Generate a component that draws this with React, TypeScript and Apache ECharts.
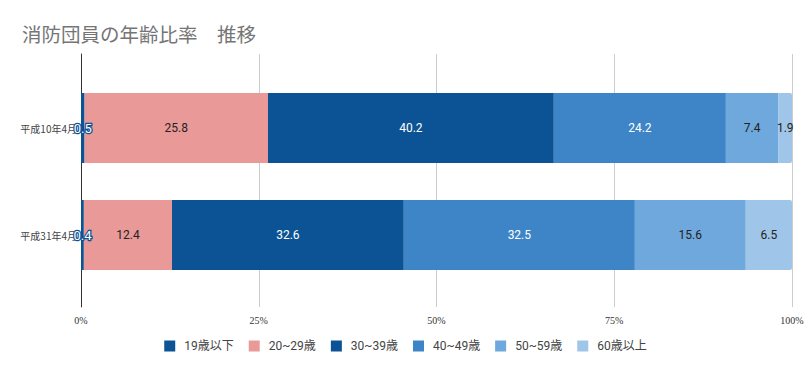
import React, { useEffect, useRef } from "react";
import * as echarts from "echarts";

const categories = ["平成10年4月", "平成31年4月"];
const seriesNames = ["19歳以下", "20~29歳", "30~39歳", "40~49歳", "50~59歳", "60歳以上"];
const age19 = [0.5, 0.4];
const age20 = [25.8, 12.4];
const age30 = [40.2, 32.6];
const age40 = [24.2, 32.5];
const age50 = [7.4, 15.6];
const age60 = [1.9, 6.5];
const xTicks = [0, 25, 50, 75, 100];
const colors = ["#0b5394", "#ea9999", "#0b5394", "#3d85c6", "#6fa8dc", "#9fc5e8"];
const labelColors = ["#ffffff", "#222222", "#ffffff", "#ffffff", "#222222", "#222222"];

export default function App() {
  const ref = useRef<HTMLDivElement>(null);
  useEffect(() => {
    if (!ref.current) return;
    const chart = echarts.init(ref.current, undefined, { renderer: "svg" });
    const values = [age19, age20, age30, age40, age50, age60];
    const series: any[] = values.map((vals, i) => ({
      name: seriesNames[i],
      type: "bar",
      stack: "total",
      xAxisIndex: 1,
      yAxisIndex: 1,
      barWidth: 70,
      data: vals,
      itemStyle: {
        color: colors[i],
        borderRadius: i === values.length - 1 ? [0, 2, 2, 0] : 0,
      },
      label: {
        show: true,
        position: "inside",
        fontFamily: "Roboto",
        fontSize: 12,
        color: labelColors[i],
        ...(i === 0
          ? { textBorderColor: "#0b5394", textBorderWidth: 2.5, fontSize: 13 }
          : {}),
        formatter: (p: any) => String(p.value),
      },
    }));
    chart.setOption({
      animation: false,
      title: {
        text: "消防団員の年齢比率　推移",
        left: 17,
        top: 19,
        textStyle: {
          fontFamily: "Noto Sans CJK JP",
          fontSize: 19.5,
          fontWeight: "normal",
          color: "#757575",
        },
      },
      legend: {
        data: seriesNames,
        left: "center",
        top: 335,
        icon: "rect",
        itemWidth: 11,
        itemHeight: 11,
        itemGap: 15,
        textStyle: {
          fontFamily: "Roboto, Noto Sans CJK JP",
          fontSize: 12,
          color: "#444444",
          padding: [0, 0, 0, 4],
        },
      },
      grid: [
        { left: 81, right: 19, top: 54, bottom: 64 },
        { left: 81, right: 19, top: 74.5, bottom: 82.5 },
      ],
      xAxis: [
        {
          type: "value",
          gridIndex: 0,
          min: xTicks[0],
          max: xTicks[xTicks.length - 1],
          interval: 25,
          axisLine: { show: false },
          axisTick: { show: false },
          splitLine: { show: true, lineStyle: { color: "#cccccc", width: 1 } },
          axisLabel: {
            formatter: "{value}%",
            fontFamily: "serif",
            fontSize: 10,
            color: "#333333",
            margin: 8,
          },
        },
        {
          type: "value",
          gridIndex: 1,
          min: 0,
          max: 100,
          show: false,
        },
      ],
      yAxis: [
        {
          type: "category",
          gridIndex: 0,
          data: [""],
          axisLine: { show: true, lineStyle: { color: "#333333", width: 1 } },
          axisTick: { show: false },
          axisLabel: { show: false },
          splitLine: { show: false },
        },
        {
          type: "category",
          gridIndex: 1,
          inverse: true,
          data: categories,
          axisLine: { show: false },
          axisTick: { show: false },
          axisLabel: {
            fontFamily: "Noto Sans CJK JP",
            fontSize: 10,
            color: "#444444",
            margin: 4,
          },
        },
      ],
      series,
    });
    return () => chart.dispose();
  }, []);
  return <div ref={ref} style={{ width: 811, height: 371, position: "absolute", left: 0, top: 0 }} />;
}
